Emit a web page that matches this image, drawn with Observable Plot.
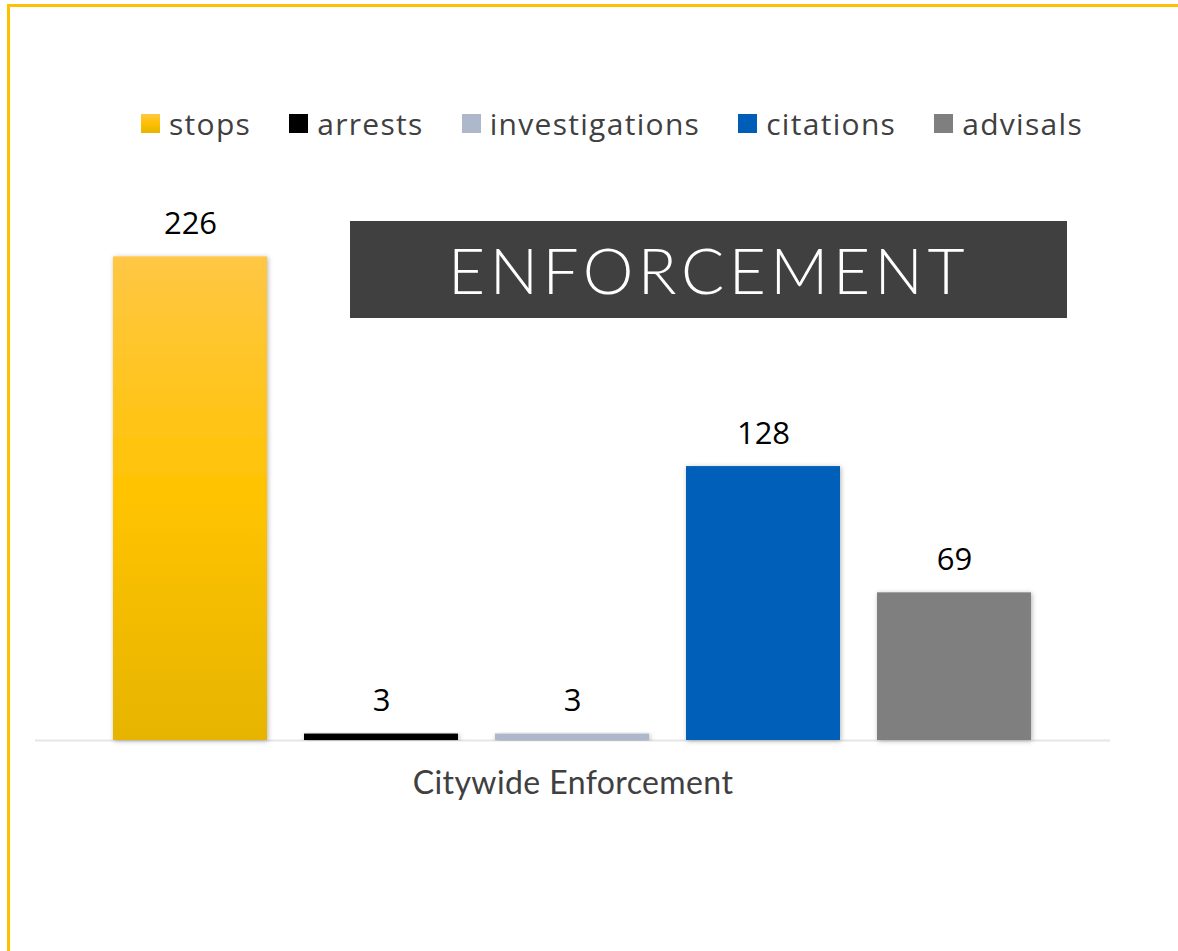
<!DOCTYPE html>
<html>
<head>
<meta charset="utf-8">
<script src="https://cdn.jsdelivr.net/npm/d3@7"></script>
<script src="https://cdn.jsdelivr.net/npm/@observablehq/plot@0.6"></script>
<style>
  html, body { margin: 0; padding: 0; background: #fff; overflow: hidden; width: 1178px; height: 951px; }
  #frame { position: absolute; left: 7px; top: 4px; width: 1300px; height: 1100px; border: 3px solid #FFC000; box-sizing: border-box; }
  #chart { position: absolute; left: 0; top: 0; }
  #legend { position: absolute; top: 103px; left: 141px; display: flex; align-items: center; font-family: "Open Sans", sans-serif; font-size: 30px; letter-spacing: 1.3px; color: #404040; white-space: nowrap; }
  #legend .item { display: flex; align-items: center; margin-right: 38px; }
  #legend .sw { width: 19px; height: 19px; margin-right: 9px; }
  #title { position: absolute; left: 350px; top: 221px; width: 717px; height: 97px; background: #404040; color: #fff; display: flex; align-items: center; justify-content: center; font-family: "Lato", "Open Sans", sans-serif; font-weight: 300; font-size: 64px; letter-spacing: 4.5px; }
</style>
</head>
<body>
<div id="frame"></div>
<div id="chart"></div>
<div id="legend"></div>
<div id="title">ENFORCEMENT</div>
<script>
const categories = ["Citywide Enforcement"];
const series = ["stops", "arrests", "investigations", "citations", "advisals"];
const values = [226, 3, 3, 128, 69];
const barColors = ["url(#stopsGrad)", "#000000", "#ADB9CA", "#005EB8", "#7F7F7F"];
const swatchColors = ["linear-gradient(#FFC845, #FFC000 50%, #E6B400)", "#000000", "#ADB9CA", "#005EB8", "#7F7F7F"];

const data = series.map((s, i) => ({category: categories[0], series: s, value: values[i]}));

const defs = () => {
  const d = d3.create("svg:defs");
  const g = d.append("linearGradient").attr("id", "stopsGrad").attr("x1", 0).attr("y1", 0).attr("x2", 0).attr("y2", 1);
  g.append("stop").attr("offset", "0%").attr("stop-color", "#FFC745");
  g.append("stop").attr("offset", "50%").attr("stop-color", "#FFC300");
  g.append("stop").attr("offset", "100%").attr("stop-color", "#E6B400");
  const f = d.append("filter").attr("id", "shadow").attr("x", "-10%").attr("y", "-10%").attr("width", "120%").attr("height", "120%");
  f.append("feDropShadow").attr("dx", 1).attr("dy", 1).attr("stdDeviation", 2.5).attr("flood-color", "#000").attr("flood-opacity", 0.3);
  return d.node();
};

const chart = Plot.plot({
  width: 1178,
  height: 951,
  marginLeft: 35,
  marginRight: 68,
  marginTop: 205,
  marginBottom: 211,
  style: {fontFamily: "Lato, 'Open Sans', sans-serif", fontSize: "32px", color: "#404040", background: "transparent", overflow: "visible"},
  fx: {domain: categories, padding: 0, axis: "bottom", label: null, tickSize: 0, tickPadding: 31},
  x: {domain: series, axis: null, paddingInner: 0.1917, paddingOuter: 0.399},
  y: {domain: [0, 250], axis: null},
  color: {domain: series, range: barColors},
  marks: [
    defs,
    Plot.ruleY([0], {stroke: "#e6e6e6", strokeWidth: 2}),
    Plot.barY(data, {fx: "category", x: "series", y: "value", fill: "series"}),
    Plot.text(data, {fx: "category", x: "series", y: "value", text: d => String(d.value), lineAnchor: "bottom", dy: -23, fontSize: 31, fill: "#000", fontFamily: "'Open Sans', sans-serif"})
  ]
});
document.getElementById("chart").appendChild(chart);
d3.select(chart).selectAll("g[aria-label='bar'] rect").attr("filter", "url(#shadow)");
d3.select(chart).selectAll("g[aria-label='fx-axis'] text, g[aria-label='fx-axis tick label'] text").attr("letter-spacing", "0.4px").attr("fill", "#404040");

const legend = d3.select("#legend");
series.forEach((s, i) => {
  const it = legend.append("div").attr("class", "item");
  it.append("div").attr("class", "sw").style("background", swatchColors[i]);
  it.append("span").text(s);
});
</script>
</body>
</html>
